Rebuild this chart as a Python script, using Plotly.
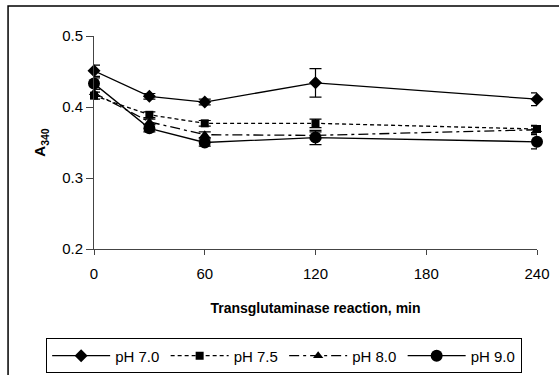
import plotly.graph_objects as go

time_min = [0, 30, 60, 120, 240]
ph70 = [0.451, 0.415, 0.407, 0.434, 0.411]
ph70_err = [0.008, 0.004, 0.004, 0.020, 0.009]
ph75 = [0.416, 0.389, 0.377, 0.377, 0.369]
ph75_err = [0.005, 0.004, 0.004, 0.006, 0.005]
ph80 = [0.420, 0.379, 0.361, 0.360, 0.368]
ph80_err = [0.005, 0.004, 0.004, 0.005, 0.005]
ph90 = [0.433, 0.370, 0.350, 0.357, 0.351]
ph90_err = [0.008, 0.005, 0.005, 0.010, 0.010]

series = [
    ("pH 7.0", ph70, ph70_err, "solid", "diamond", 10),
    ("pH 7.5", ph75, ph75_err, "4px,3px", "square", 8),
    ("pH 8.0", ph80, ph80_err, "10px,4px,3px,4px", "triangle-up", 9),
    ("pH 9.0", ph90, ph90_err, "solid", "circle", 12),
]

fig = go.Figure()
for name, ys, errs, dash, sym, sz in series:
    fig.add_trace(go.Scatter(
        x=time_min, y=ys, name=name, mode="lines+markers",
        line=dict(color="black", width=1.3, dash=dash),
        marker=dict(symbol=sym, size=sz, color="black"),
        error_y=dict(type="data", array=errs, visible=True, color="black",
                     thickness=1.2, width=6),
        cliponaxis=False,
    ))

font = "Liberation Sans, Arial, sans-serif"
fig.update_layout(
    width=559, height=375,
    margin=dict(l=94, r=22, t=36, b=126, autoexpand=False),
    paper_bgcolor="white", plot_bgcolor="white",
    font=dict(family=font, size=15, color="black"),
    showlegend=True,
    legend=dict(
        orientation="h",
        x=-0.108, y=-0.42, xanchor="left", yanchor="top",
        bordercolor="black", borderwidth=1, bgcolor="white",
        font=dict(family=font, size=15, color="black"),
        itemwidth=58, entrywidth=45.5, entrywidthmode="pixels",
        tracegroupgap=0,
    ),
    xaxis=dict(
        range=[0, 240], tickvals=[0, 60, 120, 180, 240],
        showgrid=False, zeroline=False,
        showline=True, linecolor="#444", linewidth=1,
        ticks="outside", ticklen=5, tickcolor="#444",
        ticklabelstandoff=6,
        tickfont=dict(size=15),
        title=dict(text="<b>Transglutaminase reaction, min</b>",
                   font=dict(size=14), standoff=22),
    ),
    yaxis=dict(
        range=[0.2, 0.5], tickvals=[0.2, 0.3, 0.4, 0.5],
        tickformat=".1f",
        showgrid=False, zeroline=False,
        showline=True, linecolor="#444", linewidth=1,
        ticks="outside", ticklen=7, tickcolor="#444",
        tickfont=dict(size=15),
        title=dict(text="<b>A</b><sub><b>340</b></sub>",
                   font=dict(size=15), standoff=12),
    ),
    shapes=[dict(type="rect", xref="paper", yref="paper",
                 x0=-0.194, x1=1.1, y0=-0.7, y1=1.141,
                 line=dict(color="black", width=1.5), layer="below")],
)

fig.write_html("out.html")
